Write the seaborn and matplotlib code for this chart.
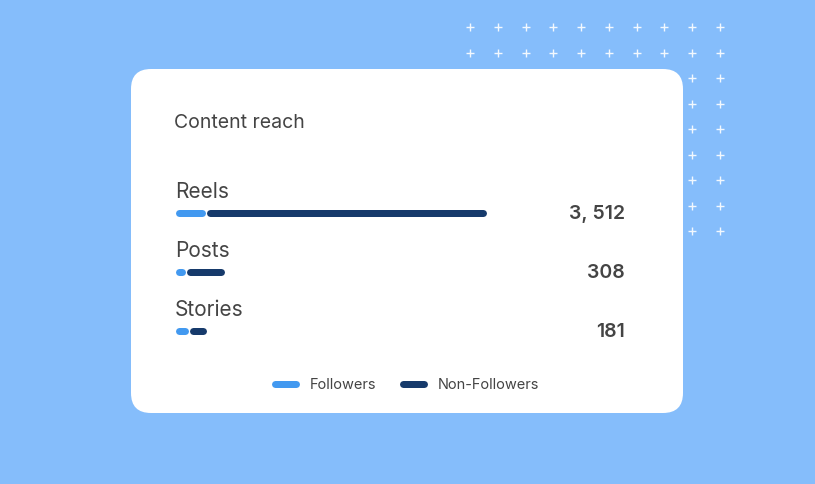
import numpy as np
import pandas as pd
import matplotlib
matplotlib.use("Agg")
import matplotlib.pyplot as plt
from matplotlib.patches import FancyBboxPatch
from matplotlib.lines import Line2D
import seaborn as sns

# data (bar lengths as drawn, totals as printed)
categories = ["Reels", "Posts", "Stories"]
followers = [339, 124, 158]
non_followers = [3162, 429, 181]
totals = ["3, 512", "308", "181"]
series_names = ["Followers", "Non-Followers"]

# colours
BG = "#85BDFB"
LIGHT = "#4299F0"
DARK = "#163A6B"
TEXT = "#444444"

sns.set_theme(style="white")
plt.rcParams["font.family"] = ["Inter", "DejaVu Sans"]

W, H, DPI = 815, 484, 100
fig = plt.figure(figsize=(W / DPI, H / DPI), dpi=DPI, facecolor=BG)

# background layer in pixel units: plus grid + white card
bg = fig.add_axes([0, 0, 1, 1], zorder=0)
bg.set_xlim(0, W)
bg.set_ylim(H, 0)
bg.axis("off")
gx, gy = np.meshgrid(np.linspace(470, 720, 10), np.linspace(27, 231, 9))
bg.scatter(gx.ravel(), gy.ravel(), marker="+", s=28, color="white", linewidths=1.0, alpha=0.9)
card = FancyBboxPatch((131, 69), 552, 344, boxstyle="round,pad=0,rounding_size=20",
                      facecolor="white", edgecolor="none", zorder=3)
bg.add_patch(card)

# bars axes: placed in pixel terms
left_px, right_px = 175, 625
top_px, row_px = 183.5, 59
ax = fig.add_axes([left_px / W, 1 - (top_px + 3 * row_px) / H,
                   (right_px - left_px) / W, 3 * row_px / H], zorder=2)
ax.patch.set_alpha(0)
xmax = 5080
units_per_px = xmax / (right_px - left_px)
thick = 7  # px
r = thick / 2 * units_per_px
gap = 1 * units_per_px
lw_pt = thick * 72 / DPI

df = pd.DataFrame({"cat": categories, "fol": followers, "non": non_followers})
df["fol_left"] = r
df["fol_w"] = df["fol"] - 2 * r
df["non_left"] = df["fol"] + gap + r
df["non_w"] = df["non"] - 2 * r

sns.barplot(data=df, x="fol_w", y="cat", orient="h", width=0.0005, color=LIGHT,
            left=df["fol_left"], saturation=1, ax=ax)
sns.barplot(data=df, x="non_w", y="cat", orient="h", width=0.0005, color=DARK,
            left=df["non_left"], saturation=1, ax=ax)
# rounded capsule ends: thick edge stroke with round joins
for p in ax.patches:
    p.set_edgecolor(p.get_facecolor())
    p.set_linewidth(lw_pt)
    p.set_joinstyle("round")
    p.set_capstyle("round")

ax.set_xlim(0, xmax)
ax.set_ylim(2.5, -0.5)
ax.set_xlabel("")
ax.set_ylabel("")
ax.set_xticks([])
ax.set_yticks([])
sns.despine(ax=ax, left=True, bottom=True)

tr = ax.get_yaxis_transform()
for i, (c, t) in enumerate(zip(categories, totals)):
    ax.text(0, i - 21.5 / row_px, c, transform=tr, ha="left", va="center",
            fontsize=15, color=TEXT)
    ax.text(1, i + 1 / row_px, t, transform=tr, ha="right", va="center",
            fontsize=14, fontweight="semibold", color=TEXT)

fig.text(174 / W, 1 - 123 / H, "Content reach", ha="left", va="center",
         fontsize=14, color=TEXT, zorder=5)

handles = [Line2D([], [], color=LIGHT, lw=lw_pt, solid_capstyle="round"),
           Line2D([], [], color=DARK, lw=lw_pt, solid_capstyle="round")]
leg = fig.legend(handles, series_names, loc="center", ncol=2, frameon=False,
                 bbox_to_anchor=(407 / W, 1 - 385 / H), fontsize=10.5,
                 handlelength=1.45, handletextpad=0.95, columnspacing=1.8)
for t in leg.get_texts():
    t.set_color(TEXT)
leg.set_zorder(5)

fig.savefig("out.png", dpi=DPI, facecolor=BG)
